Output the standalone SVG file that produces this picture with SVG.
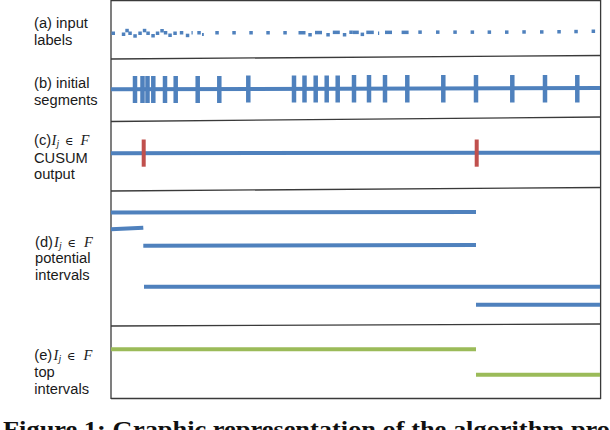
<svg xmlns="http://www.w3.org/2000/svg" width="610" height="430" viewBox="0 0 610 430">
<style>
.lbl{font-family:"Liberation Sans",Arial,sans-serif;font-size:14.7px;fill:#1a1a1a}
.m{font-family:"Liberation Serif","DejaVu Serif",serif;font-style:italic;font-size:14.5px;fill:#1a1a1a}
.mu{font-family:"DejaVu Serif","Liberation Serif",serif;font-style:normal;font-size:11.5px;fill:#1a1a1a}
.sub{font-family:"Liberation Serif",serif;font-style:italic;font-size:10px;fill:#1a1a1a}
.frame{stroke:#3a3a3a;stroke-width:1.3;fill:none}
.blue{stroke:#4F81BD;stroke-width:4;fill:none}
.tick{stroke:#4F81BD;stroke-width:4.5;fill:none}
.red{stroke:#C0504D;stroke-width:4;fill:none}
.green{stroke:#9BBB59;stroke-width:4;fill:none}
.dot{fill:#4F81BD}
.cap{font-family:"Liberation Serif","Times New Roman",serif;font-size:23px;font-weight:bold;fill:#111}
</style>
<rect width="610" height="430" fill="#ffffff"/>

<g id="frame">
<line class="frame" x1="111" y1="0.7" x2="601" y2="0.7"/>
<line class="frame" x1="111" y1="59" x2="601" y2="55.5"/>
<line class="frame" x1="111" y1="121.5" x2="601" y2="117"/>
<line class="frame" x1="111" y1="191" x2="601" y2="187.5"/>
<line class="frame" x1="111" y1="326" x2="601" y2="324"/>
<line class="frame" x1="111" y1="398.5" x2="601" y2="398.5"/>
<line class="frame" x1="111" y1="0" x2="111" y2="399"/>
<line class="frame" x1="600.6" y1="0" x2="600.6" y2="399"/>
</g>

<g id="row-a">
<text class="lbl" x="34" y="28">(a) input</text>
<text class="lbl" x="34" y="45">labels</text>
<g class="dot">
<rect x="111.5" y="31.5" width="3.5" height="3.5"/>
<rect x="121.8" y="32.5" width="3.5" height="3.5"/>
<rect x="125.3" y="28.8" width="3.5" height="3.5"/>
<rect x="128.3" y="31.5" width="3.5" height="3.5"/>
<rect x="133.3" y="34.2" width="3.5" height="3.5"/>
<rect x="138.3" y="31.5" width="3.5" height="3.5"/>
<rect x="142.8" y="28.8" width="3.5" height="3.5"/>
<rect x="146.3" y="31.5" width="3.5" height="3.5"/>
<rect x="151.3" y="34" width="3.5" height="3.5"/>
<rect x="155.8" y="31.5" width="3.5" height="3.5"/>
<rect x="160.3" y="29" width="3.5" height="3.5"/>
<rect x="163.8" y="31" width="3.5" height="3.5"/>
<rect x="168.3" y="33.5" width="3.5" height="3.5"/>
<rect x="173.3" y="31.5" width="3.5" height="3.5"/>
<rect x="179.8" y="31" width="3.5" height="3.5"/>
<rect x="185.8" y="33.7" width="3.5" height="3.5"/>
<rect x="191.5" y="31" width="1.2" height="3.5"/>
<rect x="197.3" y="31" width="3.5" height="3.5"/>
<rect x="202" y="33" width="1.8" height="3"/>
<rect x="215.3" y="31" width="3.5" height="3.5"/>
<rect x="232.3" y="31" width="3.5" height="3.5"/>
<rect x="249.3" y="31" width="3.5" height="3.5"/>
<rect x="266.3" y="31" width="3.5" height="3.5"/>
<rect x="283.3" y="31" width="3.5" height="3.5"/>
<rect x="298.5" y="31" width="7" height="3.5"/>
<rect x="308.3" y="33" width="3.5" height="3.5"/>
<rect x="315" y="30.8" width="7" height="3.5"/>
<rect x="326.3" y="33" width="3.5" height="3.5"/>
<rect x="332.8" y="30.6" width="7" height="3.5"/>
<rect x="342.8" y="33" width="3.5" height="3.5"/>
<rect x="349.3" y="30.5" width="3.5" height="3.5"/>
<rect x="352.8" y="30.6" width="6" height="3.5"/>
<rect x="360.6" y="32.6" width="3.5" height="3.5"/>
<rect x="366.3" y="30.6" width="7.5" height="3.5"/>
<rect x="378" y="31.5" width="1.2" height="3.5"/>
<rect x="385" y="30.6" width="7" height="3.5"/>
<rect x="401.6" y="30.6" width="7" height="3.5"/>
<rect x="418.3" y="30.4" width="3.5" height="3.5"/>
<rect x="436" y="30.4" width="3.5" height="3.5"/>
<rect x="453.3" y="30.4" width="3.5" height="3.5"/>
<rect x="470.6" y="30.4" width="3.5" height="3.5"/>
<rect x="487.6" y="30.4" width="3.5" height="3.5"/>
<rect x="505" y="30.4" width="3.5" height="3.5"/>
<rect x="522.3" y="30.2" width="3.5" height="3.5"/>
<rect x="540" y="30.2" width="3.5" height="3.5"/>
<rect x="557.3" y="30" width="3.5" height="3.5"/>
<rect x="574.3" y="29.8" width="3.5" height="3.5"/>
<rect x="591.6" y="29.5" width="3.5" height="3.5"/>
</g>
</g>

<g id="row-b">
<text class="lbl" x="34" y="88">(b) initial</text>
<text class="lbl" x="34" y="105">segments</text>
<line class="blue" x1="111" y1="89.3" x2="600" y2="88"/>
<g class="tick">
<line x1="135" y1="76" x2="135" y2="103"/>
<line x1="142.5" y1="76" x2="142.5" y2="103"/>
<line x1="147.5" y1="76" x2="147.5" y2="103"/>
<line x1="153.3" y1="76" x2="153.3" y2="103"/>
<line x1="165" y1="76" x2="165" y2="103"/>
<line x1="175.7" y1="76" x2="175.7" y2="103"/>
<line x1="197.7" y1="76" x2="197.7" y2="103"/>
<line x1="219.3" y1="76" x2="219.3" y2="103"/>
<line x1="248.3" y1="75.5" x2="248.3" y2="102.5"/>
<line x1="294" y1="75.5" x2="294" y2="102.5"/>
<line x1="304.5" y1="75.5" x2="304.5" y2="102.5"/>
<line x1="315.7" y1="75.5" x2="315.7" y2="102.5"/>
<line x1="326.7" y1="75.5" x2="326.7" y2="102.5"/>
<line x1="337.7" y1="75.5" x2="337.7" y2="102.5"/>
<line x1="354" y1="75" x2="354" y2="102.5"/>
<line x1="369" y1="75" x2="369" y2="102.5"/>
<line x1="385" y1="75" x2="385" y2="102.5"/>
<line x1="407.3" y1="75" x2="407.3" y2="102.5"/>
<line x1="443.3" y1="75" x2="443.3" y2="102.5"/>
<line x1="476" y1="75" x2="476" y2="102.5"/>
<line x1="512.3" y1="75" x2="512.3" y2="102.5"/>
<line x1="545" y1="75" x2="545" y2="102.5"/>
<line x1="577.3" y1="75" x2="577.3" y2="102.5"/>
</g>
</g>

<g id="row-c">
<text class="lbl" x="34" y="145">(c)</text>
<text class="m" x="51.5" y="145">I</text>
<text class="sub" x="56.5" y="147">j</text>
<text class="mu" x="65" y="145">∈</text>
<text class="m" x="80.5" y="145">F</text>
<text class="lbl" x="34" y="162.5">CUSUM</text>
<text class="lbl" x="34" y="179">output</text>
<line class="blue" x1="111" y1="153.3" x2="600" y2="152.7"/>
<line class="red" x1="143.7" y1="139.5" x2="143.7" y2="166.7"/>
<line class="red" x1="476.7" y1="139.5" x2="476.7" y2="166.7"/>
</g>

<g id="row-d">
<text class="lbl" x="35" y="246.5">(d)</text>
<text class="m" x="54" y="246.5">I</text>
<text class="sub" x="59" y="248.5">j</text>
<text class="mu" x="67.5" y="246.5">∈</text>
<text class="m" x="84" y="246.5">F</text>
<text class="lbl" x="35" y="263.3">potential</text>
<text class="lbl" x="35" y="280">intervals</text>
<line class="blue" x1="111" y1="212.5" x2="476" y2="212"/>
<line class="blue" x1="111" y1="229.3" x2="143.3" y2="227.8"/>
<line class="blue" x1="143.3" y1="245.7" x2="476" y2="245"/>
<line class="blue" x1="144" y1="286.7" x2="600" y2="286.7"/>
<line class="blue" x1="476" y1="304.7" x2="600" y2="304.7"/>
</g>

<g id="row-e">
<text class="lbl" x="34.3" y="360">(e)</text>
<text class="m" x="53.5" y="360">I</text>
<text class="sub" x="58.5" y="362">j</text>
<text class="mu" x="67" y="360">∈</text>
<text class="m" x="83.5" y="360">F</text>
<text class="lbl" x="34.3" y="377">top</text>
<text class="lbl" x="34.3" y="394">intervals</text>
<line class="green" x1="111" y1="349.3" x2="476" y2="349.3"/>
<line class="green" x1="476" y1="374.7" x2="600" y2="374.7"/>
</g>

<g id="caption">
<text class="cap" x="3" y="437" textLength="607" lengthAdjust="spacingAndGlyphs">Figure 1: Graphic representation of the algorithm pro</text>
</g>
</svg>
